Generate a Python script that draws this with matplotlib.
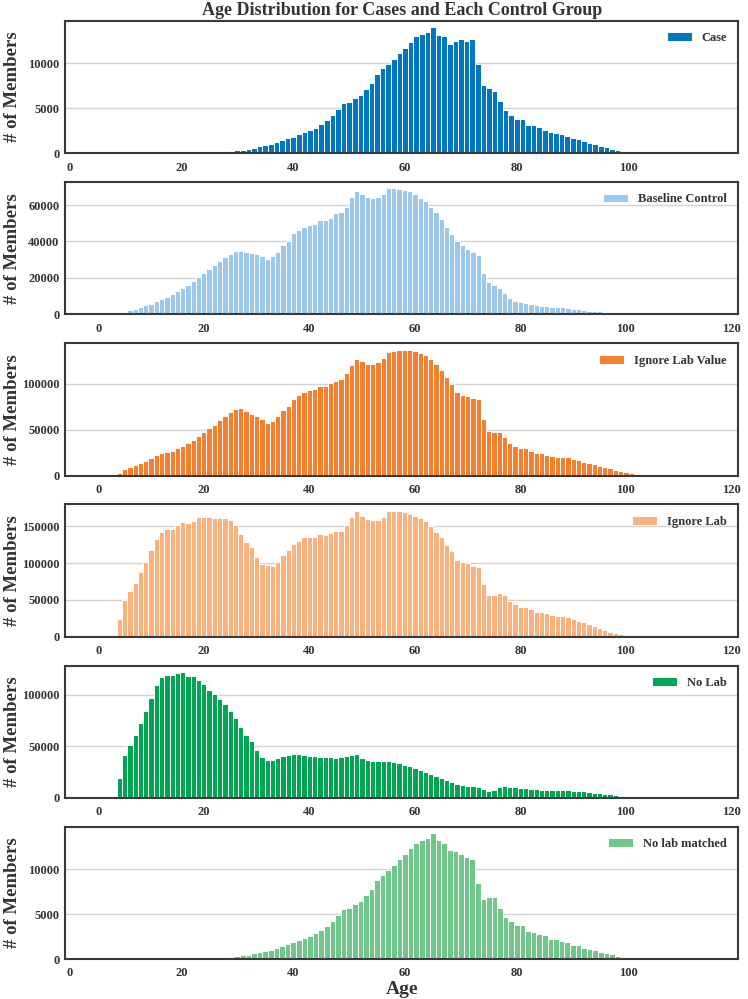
import matplotlib
matplotlib.use('Agg')
import matplotlib.pyplot as plt

ages = list(range(116))

# counts per age (ages 0..115)
case = [0] * 21 + [
    20, 40, 60, 80, 100, 130, 160, 200, 250, 320,
    400, 500, 620, 760, 900, 1050, 1250, 1450, 1650, 1850,
    2100, 2400, 2600, 2850, 3250, 3700, 4200, 4950, 5550, 5700,
    6150, 6480, 7150, 7770, 8800, 9420, 9890, 10440, 11130, 11680,
    12370, 12960, 13250, 13470, 13980, 13140, 12960, 12080, 12450, 12630,
    12410, 12660, 9850, 7550, 7230, 6900, 5770, 4780, 4230, 3830,
    3830, 3150, 3100, 2880, 2620, 2300, 2280, 2150, 1950, 1680,
    1580, 1380, 1180, 1050, 850, 700, 520, 350, 220, 120,
    60, 30, 15, 5] + [0] * 11

baseline = [0] * 4 + [
    400, 1400, 2200, 3100, 3800, 4900, 5800, 7100, 8400, 9600,
    11100, 12700, 14400, 16000, 18500, 20700, 22700, 24900, 26900, 29500,
    31600, 33100, 34500, 34900, 34200, 33500, 32900, 31800, 30500, 31800,
    34200, 37800, 40500, 44400, 46400, 48000, 49100, 49800, 52000, 52000,
    53100, 55500, 56000, 59100, 64200, 67600, 65800, 64400, 64000, 64500,
    66200, 69100, 69100, 68700, 68400, 67500, 65800, 64000, 62000, 58900,
    56000, 52400, 48200, 44000, 40400, 37800, 36000, 34200, 32400, 22700,
    17600, 16000, 14400, 11800, 9100, 7600, 6700, 6200, 5500, 5100,
    4700, 4500, 4300, 4100, 3800, 3500, 3200, 2800, 2500, 2100,
    1900, 1600, 1200, 1000, 700, 500, 350, 200, 100, 50,
    20] + [0] * 11

ignore_lab_value = [0] * 4 + [
    3300, 7600, 9100, 11200, 13800, 16300, 18800, 22500, 24600, 26100,
    27200, 29700, 32600, 35500, 39100, 43100, 47100, 51400, 55100, 60100,
    64500, 68800, 72500, 73600, 70700, 67400, 65200, 61200, 57600, 59800,
    64500, 71400, 76100, 83300, 87300, 91300, 93100, 94200, 97500, 97800,
    100700, 103600, 105100, 111600, 121000, 127500, 124600, 122100, 122100, 123900,
    127900, 134800, 136200, 136600, 137300, 137300, 135500, 133700, 131500, 126800,
    121400, 115200, 107600, 99600, 90600, 88000, 87000, 84100, 83300, 62000,
    48200, 47500, 47800, 41700, 35500, 32600, 29700, 29700, 26800, 24600,
    24600, 22800, 21000, 20700, 20700, 19900, 18100, 17400, 15200, 13800,
    12300, 10900, 9400, 8000, 6500, 5100, 3600, 2500, 1500, 900,
    400, 150] + [0] * 10

ignore_lab = [0] * 4 + [
    24700, 50300, 62000, 72800, 87600, 102000, 118200, 133400, 142000, 146400,
    146900, 151800, 155400, 155000, 157200, 162200, 162200, 162200, 161300, 161700,
    161300, 158600, 152300, 139300, 128900, 121300, 108300, 99300, 97500, 96600,
    102000, 110500, 117300, 126700, 130700, 135200, 135700, 135700, 139700, 138800,
    141500, 143800, 143800, 151800, 163100, 170300, 164400, 160000, 158100, 158600,
    162600, 170700, 171200, 170300, 169800, 167100, 164400, 160800, 156800, 150000,
    142800, 135200, 124800, 115900, 104700, 101100, 100200, 95700, 95200, 71400,
    56200, 56600, 59700, 56200, 49000, 44000, 40900, 40000, 37300, 34100,
    34100, 32300, 29600, 28700, 28300, 26500, 24300, 22000, 19800, 17100,
    14400, 11700, 9000, 6700, 4900, 3600, 2700, 1800, 1100, 600,
    300, 100] + [0] * 10

no_lab = [0] * 4 + [
    19600, 41700, 51600, 60900, 72800, 84300, 97100, 109000, 117000, 119200,
    119200, 121200, 122100, 118300, 118300, 114100, 110000, 104800, 100600, 95800,
    91300, 84300, 77900, 68300, 60900, 55100, 46500, 39700, 37200, 37200,
    38800, 40400, 41700, 42600, 42600, 42000, 41000, 40700, 40100, 39700,
    39700, 38800, 39700, 41000, 42000, 42300, 39100, 37200, 36200, 35300,
    35300, 35600, 34600, 33500, 32000, 30500, 29000, 27400, 25500, 23400,
    21200, 19200, 17300, 15100, 13300, 12200, 11500, 11200, 10900, 8300,
    7100, 7800, 10300, 11900, 10900, 10300, 9900, 9600, 9000, 8700,
    8000, 8000, 7700, 7700, 7400, 7400, 7100, 6700, 6400, 5800,
    5100, 4800, 4200, 3500, 2900, 2200, 1600, 1100, 600, 250] + [0] * 12

no_lab_matched = [0] * 21 + [
    20, 40, 60, 80, 100, 130, 160, 200, 250, 320,
    400, 500, 620, 760, 900, 1050, 1250, 1450, 1650, 1850,
    2100, 2400, 2600, 2850, 3250, 3700, 4200, 4950, 5550, 5700,
    6150, 6480, 7150, 7770, 8800, 9420, 9890, 10440, 11130, 11680,
    12370, 12960, 13250, 13530, 14040, 13240, 12940, 12200, 12020, 11690,
    11400, 11180, 8530, 6690, 6910, 6910, 5740, 4710, 4230, 3790,
    3790, 3090, 3050, 2790, 2680, 2240, 2210, 2060, 1950, 1620,
    1540, 1250, 1140, 990, 810, 660, 510, 370, 220, 120,
    60, 30, 15, 5] + [0] * 11

groups = ['Case', 'Baseline Control', 'Ignore Lab Value', 'Ignore Lab', 'No Lab', 'No lab matched']
series = [case, baseline, ignore_lab_value, ignore_lab, no_lab, no_lab_matched]
colors = ['#0077c0', '#9cc8ec', '#f37f2f', '#f9b27d', '#00a651', '#6fc78a']

plt.rcParams['font.family'] = 'Liberation Serif'
plt.rcParams['font.weight'] = 'bold'

fig, axes = plt.subplots(6, 1, figsize=(7.48, 9.99))
fig.subplots_adjust(left=0.087, right=0.987, top=0.979, bottom=0.040, hspace=0.219)

for ax, vals, name, col in zip(axes, series, groups, colors):
    ax.bar(ages, vals, width=1.0, color=col, edgecolor='white', linewidth=0.7, label=name)
    ax.yaxis.grid(True, color='#d4d4d4', lw=1)
    ax.set_axisbelow(True)
    for s in ax.spines.values():
        s.set_color('#3a3a3a')
        s.set_linewidth(1.5)
    ax.tick_params(length=0, labelsize=9, colors='#333333')
    ax.tick_params(axis='x', pad=6)
    ax.tick_params(axis='y', pad=4)
    for lab in ax.get_xticklabels() + ax.get_yticklabels():
        lab.set_fontweight('bold')
    ax.set_ylabel('# of Members', fontsize=13.5, fontweight='bold', color='#333333')
    ax.yaxis.set_label_coords(-0.066, 0.5)
    ax.legend(loc='upper right', frameon=False, fontsize=9, labelcolor='#333333')

axes[0].set_xlim(-0.8, 119.6)
axes[5].set_xlim(-0.8, 119.6)
axes[0].set_title('Age Distribution for Cases and Each Control Group',
                  fontsize=13, fontweight='bold', color='#333333', pad=4)
axes[5].set_xlabel('Age', fontsize=14, fontweight='bold', color='#333333', labelpad=1)

fig.savefig('out.png', dpi=100)
